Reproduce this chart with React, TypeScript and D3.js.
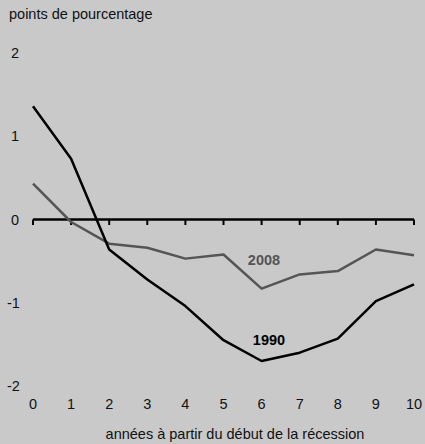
import React from "react";
import * as d3 from "d3";

const years = [0, 1, 2, 3, 4, 5, 6, 7, 8, 9, 10];
const series1990 = [1.36, 0.73, -0.36, -0.72, -1.04, -1.45, -1.7, -1.6, -1.43, -0.98, -0.78];
const series2008 = [0.43, -0.03, -0.29, -0.34, -0.47, -0.42, -0.83, -0.66, -0.62, -0.36, -0.43];
const yTicks = [2, 1, 0, -1, -2];
const xTickLabels = ["0", "1", "2", "3", "4", "5", "6", "7", "8", "9", "10"];
const yTitle = "points de pourcentage";
const xTitle = "années à partir du début de la récession";

const W = 425;
const H = 444;
const FONT = "'Liberation Sans', Arial, sans-serif";
const FS = 14.5;

export default function App() {
  const x = d3.scaleLinear().domain([0, 10]).range([33, 414]);
  const y = d3.scaleLinear().domain([-2, 2]).range([386, 53]);
  const line = d3
    .line<number>()
    .x((_, i) => x(years[i]))
    .y((d) => y(d));

  return (
    <svg
      width={W}
      height={H}
      style={{ position: "absolute", left: 0, top: 0, background: "#c9c9c9" }}
      fontFamily={FONT}
    >
      <rect x={0} y={0} width={W} height={H} fill="#c9c9c9" />
      <text x={9} y={14} dy="0.35em" fontSize={FS} fill="#111">
        {yTitle}
      </text>
      {yTicks.map((t) => (
        <text key={t} x={t < 0 ? 7 : 11} y={y(t)} dy="0.35em" fontSize={FS} fill="#111">
          {t}
        </text>
      ))}
      {xTickLabels.map((t, i) => (
        <text key={t} x={x(years[i])} y={404} dy="0.35em" fontSize={FS} textAnchor="middle" fill="#111">
          {t}
        </text>
      ))}
      <text x={235} y={434} dy="0.35em" fontSize={FS} textAnchor="middle" fill="#111">
        {xTitle}
      </text>
      <line x1={x(0)} x2={x(10)} y1={y(0)} y2={y(0)} stroke="#000" strokeWidth={2.5} />
      {years.map((v) => (
        <line key={v} x1={x(v)} x2={x(v)} y1={y(0)} y2={y(0) + 5.5} stroke="#000" strokeWidth={2} />
      ))}
      <path d={line(series2008) || ""} fill="none" stroke="#555555" strokeWidth={2.5} strokeLinejoin="round" />
      <path d={line(series1990) || ""} fill="none" stroke="#000000" strokeWidth={2.5} strokeLinejoin="round" />
      <text x={264} y={260} dy="0.35em" fontSize={FS} fontWeight="bold" textAnchor="middle" fill="#555555">
        2008
      </text>
      <text x={269} y={340} dy="0.35em" fontSize={FS} fontWeight="bold" textAnchor="middle" fill="#000">
        1990
      </text>
    </svg>
  );
}
